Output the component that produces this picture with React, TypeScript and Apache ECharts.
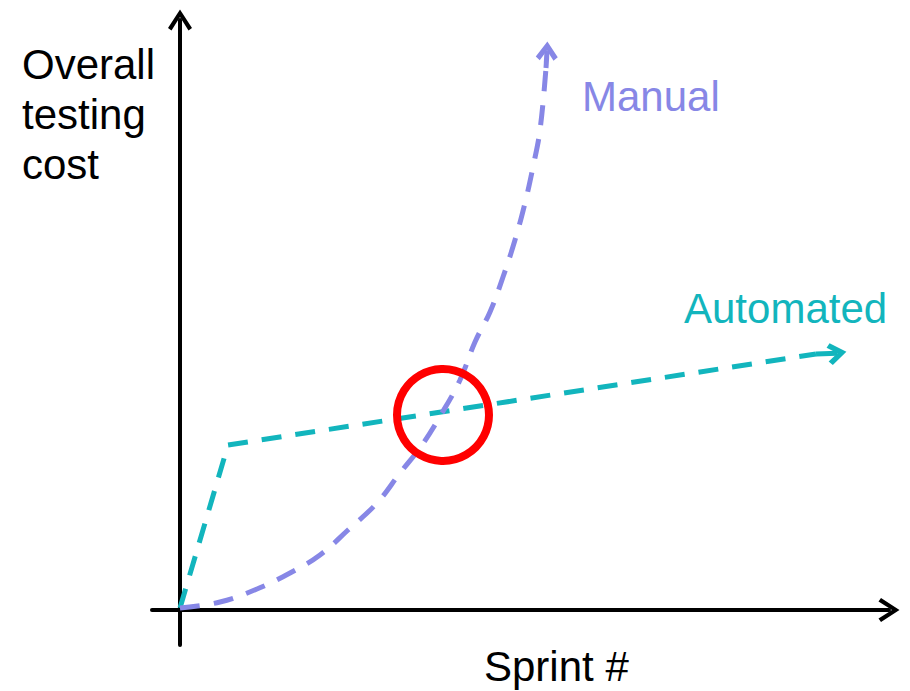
import React, { useEffect, useRef } from "react";
import * as echarts from "echarts";

// Manual testing cost curve (x = sprint, y = cost)
const manualX = [0, 2, 3.85, 5.5, 7, 8.4, 9.85, 11, 12.1, 13.1, 14, 14.75, 15.5, 16.15, 16.75, 17.25, 17.65, 18, 18.3];
const manualY = [0.2, 0.8, 2.1, 3.7, 5.5, 8, 10.7, 13.7, 16.5, 19.7, 23, 26.8, 29.8, 33.3, 37, 40.7, 44.3, 48, 54.2];
// Automated testing cost
const autoX = [0, 2.4, 31.8];
const autoY = [0.2, 16.5, 25.6];
// arrow-head centres at the end of each series, and their heading (degrees)
const manualArrow = [18.35, 55.9];
const manualArrowRotate = -2.3;
const autoArrow = [32.85, 25.68];
const autoArrowRotate = -81.4;
// break-even point
const crossPoint = [13.15, 19.5];

const labels = {
  yName: "Overall\ntesting\ncost",
  xName: "Sprint #",
  manual: "Manual",
  automated: "Automated",
};

const PURPLE = "#8787E6";
const TEAL = "#12B5BD";
const FONT = "'Liberation Sans', Arial, sans-serif";
const CHEVRON = "path://M12,0 L24,18.5 L20.5,21 L12,7.5 L3.5,21 L0,18.5 Z";
const CHEVRON_BOLD = "path://M12,0 L24,17 L19.5,21 L12,10 L4.5,21 L0,17 Z";

export default function App() {
  const ref = useRef<HTMLDivElement>(null);
  useEffect(() => {
    if (!ref.current) return;
    const chart = echarts.init(ref.current, undefined, { renderer: "svg" });
    const axisCommon = {
      type: "value" as const,
      axisTick: { show: false },
      axisLabel: { show: false },
      splitLine: { show: false },
    };
    const stem = (color: string, from: number[], to: number[]) => ({
      silent: true,
      symbol: ["none", "none"],
      label: { show: false },
      lineStyle: { color, width: 5, type: "solid", opacity: 1 },
      data: [[{ coord: from }, { coord: to }]],
    });
    chart.setOption({
      animation: false,
      backgroundColor: "#ffffff",
      grid: { left: 152, right: 21, top: 20, bottom: 46 },
      xAxis: {
        ...axisCommon,
        min: -1.4,
        max: 35.45,
        axisLine: {
          show: true,
          onZero: true,
          symbol: ["none", CHEVRON],
          symbolSize: [24, 22],
          lineStyle: { color: "#000", width: 4 },
        },
      },
      yAxis: {
        ...axisCommon,
        min: -3.5,
        max: 59,
        axisLine: {
          show: true,
          onZero: true,
          symbol: ["none", CHEVRON],
          symbolSize: [24, 21],
          lineStyle: { color: "#000", width: 4 },
        },
      },
      series: [
        {
          type: "line",
          name: labels.automated,
          data: autoX.map((x, i) => [x, autoY[i]]),
          showSymbol: false,
          symbol: "none",
          lineStyle: { color: TEAL, width: 5, type: [20, 14] },
          markLine: stem(TEAL, [autoX[autoX.length - 1], autoY[autoY.length - 1]], autoArrow),
          z: 3,
        },
        {
          type: "line",
          name: labels.manual,
          data: manualX.map((x, i) => [x, manualY[i]]),
          smooth: 0.4,
          showSymbol: false,
          symbol: "none",
          lineStyle: { color: PURPLE, width: 5, type: [20, 14] },
          markLine: stem(PURPLE, [manualX[manualX.length - 1], manualY[manualY.length - 1]], manualArrow),
          z: 4,
        },
        {
          type: "scatter",
          silent: true,
          symbol: CHEVRON_BOLD,
          symbolSize: [22, 19],
          data: [
            { value: autoArrow, symbolRotate: autoArrowRotate, itemStyle: { color: TEAL, opacity: 1 } },
            { value: manualArrow, symbolRotate: manualArrowRotate, itemStyle: { color: PURPLE, opacity: 1 } },
          ],
          z: 5,
        },
        {
          type: "scatter",
          data: [crossPoint],
          symbol: "circle",
          symbolSize: 92,
          itemStyle: { color: "rgba(0,0,0,0)", borderColor: "#FF0000", borderWidth: 8, opacity: 1 },
          z: 6,
          silent: true,
        },
      ],
      graphic: [
        {
          type: "text",
          x: 22,
          y: 114,
          style: {
            text: labels.yName,
            font: `42px ${FONT}`,
            fill: "#000",
            lineHeight: 50,
            verticalAlign: "middle",
            align: "left",
          },
        },
        {
          type: "text",
          x: 484,
          y: 666,
          style: { text: labels.xName, font: `42px ${FONT}`, fill: "#000", verticalAlign: "middle", align: "left" },
        },
        {
          type: "text",
          x: 582,
          y: 96,
          style: { text: labels.manual, font: `42px ${FONT}`, fill: PURPLE, verticalAlign: "middle", align: "left" },
        },
        {
          type: "text",
          x: 684,
          y: 308,
          style: { text: labels.automated, font: `42px ${FONT}`, fill: TEAL, verticalAlign: "middle", align: "left" },
        },
      ],
    });
    return () => chart.dispose();
  }, []);
  return <div ref={ref} style={{ position: "fixed", left: 0, top: 0, width: 910, height: 691 }} />;
}
